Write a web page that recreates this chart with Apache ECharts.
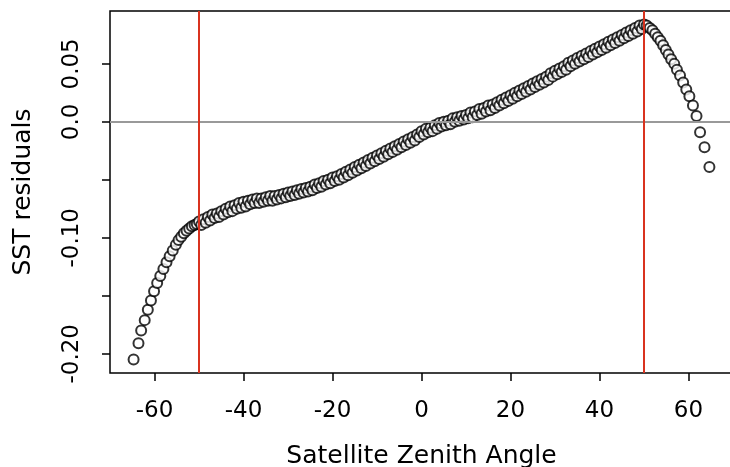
<!DOCTYPE html>
<html>
<head>
<meta charset="utf-8">
<script src="https://cdn.jsdelivr.net/npm/echarts@6/dist/echarts.min.js"></script>
<style>
html,body{margin:0;padding:0;background:#fff;}
#c{width:730px;height:467px;}
</style>
</head>
<body>
<div id="c"></div>
<script>
// Satellite zenith angle (degrees) for each plotted point
const angles = [
  -64.7,-63.6,-63.0,-62.2,-61.5,-60.8,-60.1,-59.4,-58.7,-58.0,-57.3,-56.6,-55.9,-55.2,-54.6,-54.0,-53.4,-52.8,-52.2,-51.6,-51.0,-50.5,
  -50,-49.5,-49,-48.5,-48,-47.5,-47,-46.5,-46,-45.5,-45,-44.5,-44,-43.5,-43,-42.5,-42,-41.5,-41,-40.5,
  -40,-39.5,-39,-38.5,-38,-37.5,-37,-36.5,-36,-35.5,-35,-34.5,-34,-33.5,-33,-32.5,-32,-31.5,-31,-30.5,
  -30,-29.5,-29,-28.5,-28,-27.5,-27,-26.5,-26,-25.5,-25,-24.5,-24,-23.5,-23,-22.5,-22,-21.5,-21,-20.5,
  -20,-19.5,-19,-18.5,-18,-17.5,-17,-16.5,-16,-15.5,-15,-14.5,-14,-13.5,-13,-12.5,-12,-11.5,-11,-10.5,
  -10,-9.5,-9,-8.5,-8,-7.5,-7,-6.5,-6,-5.5,-5,-4.5,-4,-3.5,-3,-2.5,-2,-1.5,-1,-0.5,
  0,0.5,1,1.5,2,2.5,3,3.5,4,4.5,5,5.5,6,6.5,7,7.5,8,8.5,9,9.5,
  10,10.5,11,11.5,12,12.5,13,13.5,14,14.5,15,15.5,16,16.5,17,17.5,18,18.5,19,19.5,
  20,20.5,21,21.5,22,22.5,23,23.5,24,24.5,25,25.5,26,26.5,27,27.5,28,28.5,29,29.5,
  30,30.5,31,31.5,32,32.5,33,33.5,34,34.5,35,35.5,36,36.5,37,37.5,38,38.5,39,39.5,
  40,40.5,41,41.5,42,42.5,43,43.5,44,44.5,45,45.5,46,46.5,47,47.5,48,48.5,49,49.5,50,
  50.6,51.3,51.9,52.5,53.1,53.7,54.3,54.9,55.5,56.1,56.8,57.4,58.1,58.8,59.5,60.2,61.0,61.8,62.6,63.6,64.7
];
// SST residual for each point
const residuals = [
  -0.205,-0.191,-0.180,-0.171,-0.162,-0.154,-0.146,-0.139,-0.133,-0.127,-0.121,-0.116,-0.111,-0.106,-0.102,-0.099,-0.096,-0.094,-0.092,-0.090,-0.089,-0.088,
  -0.086,-0.089,-0.084,-0.087,-0.082,-0.085,-0.080,-0.083,-0.079,-0.082,-0.077,-0.080,-0.075,-0.078,-0.073,-0.077,-0.072,-0.075,-0.070,-0.074,
  -0.069,-0.073,-0.068,-0.071,-0.067,-0.070,-0.066,-0.070,-0.066,-0.069,-0.065,-0.068,-0.064,-0.068,-0.064,-0.067,-0.063,-0.066,-0.062,-0.065,
  -0.061,-0.064,-0.060,-0.063,-0.059,-0.062,-0.058,-0.061,-0.057,-0.060,-0.056,-0.059,-0.054,-0.057,-0.053,-0.056,-0.051,-0.054,-0.050,-0.053,
  -0.048,-0.051,-0.047,-0.050,-0.045,-0.048,-0.043,-0.046,-0.041,-0.044,-0.039,-0.042,-0.037,-0.040,-0.035,-0.038,-0.033,-0.036,-0.031,-0.034,
  -0.029,-0.032,-0.027,-0.030,-0.025,-0.028,-0.023,-0.026,-0.021,-0.024,-0.019,-0.022,-0.017,-0.020,-0.015,-0.018,-0.013,-0.016,-0.011,-0.013,
  -0.008,-0.011,-0.006,-0.009,-0.005,-0.008,-0.003,-0.006,-0.001,-0.004,0.000,-0.003,0.001,-0.002,0.003,0.000,0.004,0.001,0.005,0.002,
  0.006,0.003,0.008,0.004,0.009,0.006,0.011,0.007,0.012,0.009,0.014,0.010,0.015,0.012,0.017,0.014,0.019,0.016,0.021,0.018,
  0.023,0.020,0.025,0.022,0.027,0.024,0.029,0.026,0.031,0.028,0.033,0.030,0.035,0.032,0.037,0.034,0.039,0.036,0.042,0.039,
  0.044,0.041,0.046,0.043,0.048,0.045,0.051,0.048,0.053,0.050,0.055,0.052,0.057,0.054,0.059,0.056,0.061,0.058,0.063,0.060,
  0.065,0.062,0.067,0.064,0.069,0.066,0.071,0.068,0.073,0.070,0.075,0.072,0.077,0.074,0.079,0.076,0.081,0.078,0.083,0.080,0.084,
  0.083,0.081,0.079,0.076,0.073,0.070,0.066,0.062,0.058,0.054,0.050,0.045,0.040,0.034,0.028,0.022,0.014,0.005,-0.009,-0.022,-0.039
];
const xTickValues = [-60,-40,-20,0,20,40,60];
const yTickValues = [-0.20,-0.15,-0.10,-0.05,0.00,0.05];
const yLabelValues = [-0.20,-0.10,0.00,0.05];
const yLabelTexts = ['-0.20','-0.10','0.0','0.05'];
const verticalRefs = [-50,50];
const horizontalRef = 0;
const xTitle = 'Satellite Zenith Angle';
const yTitle = 'SST residuals';

const points = angles.map((a,i)=>[a,residuals[i]]);
const FONT = 'DejaVu Sans';

const chart = echarts.init(document.getElementById('c'), null, {renderer:'canvas'});
chart.setOption({
  backgroundColor:'#fff',
  animation:false,
  grid:{left:110,right:-3,top:11,bottom:94,show:true,borderColor:'#000',borderWidth:1.5,backgroundColor:'transparent',
        outerBoundsMode:'none',containLabel:false},
  xAxis:{
    type:'value',min:-70,max:70,
    axisLine:{show:false,onZero:false},
    splitLine:{show:false},
    axisTick:{show:true,customValues:xTickValues,length:8,lineStyle:{color:'#000',width:1.5}},
    axisLabel:{customValues:xTickValues,color:'#000',fontFamily:FONT,fontSize:23,margin:27},
    name:xTitle,nameLocation:'middle',nameGap:71,
    nameTextStyle:{color:'#000',fontFamily:FONT,fontSize:25}
  },
  yAxis:{
    type:'value',min:-0.2166,max:0.0956,
    axisLine:{show:false,onZero:false},
    splitLine:{show:false},
    axisTick:{show:true,customValues:yTickValues,length:8,lineStyle:{color:'#000',width:1.5}},
    axisLabel:{customValues:yLabelValues,rotate:90,color:'#000',fontFamily:FONT,fontSize:23,margin:26,
      formatter:function(v){
        for(let i=0;i<yLabelValues.length;i++){ if(Math.abs(yLabelValues[i]-v)<1e-9) return yLabelTexts[i]; }
        return '';
      }},
    name:yTitle,nameLocation:'middle',nameGap:74,
    nameTextStyle:{color:'#000',fontFamily:FONT,fontSize:25}
  },
  series:[{
    type:'scatter',
    data:points,
    symbol:'emptyCircle',
    symbolSize:10,
    itemStyle:{color:'#000',borderColor:'#000',borderWidth:2},
    markLine:{
      silent:true,symbol:['none','none'],label:{show:false},
      data:[
        {yAxis:horizontalRef,lineStyle:{color:'#999',width:2,type:'solid'}},
        {xAxis:verticalRefs[0],lineStyle:{color:'#d9331f',width:2,type:'solid'}},
        {xAxis:verticalRefs[1],lineStyle:{color:'#d9331f',width:2,type:'solid'}}
      ]
    }
  }]
});
</script>
</body>
</html>
